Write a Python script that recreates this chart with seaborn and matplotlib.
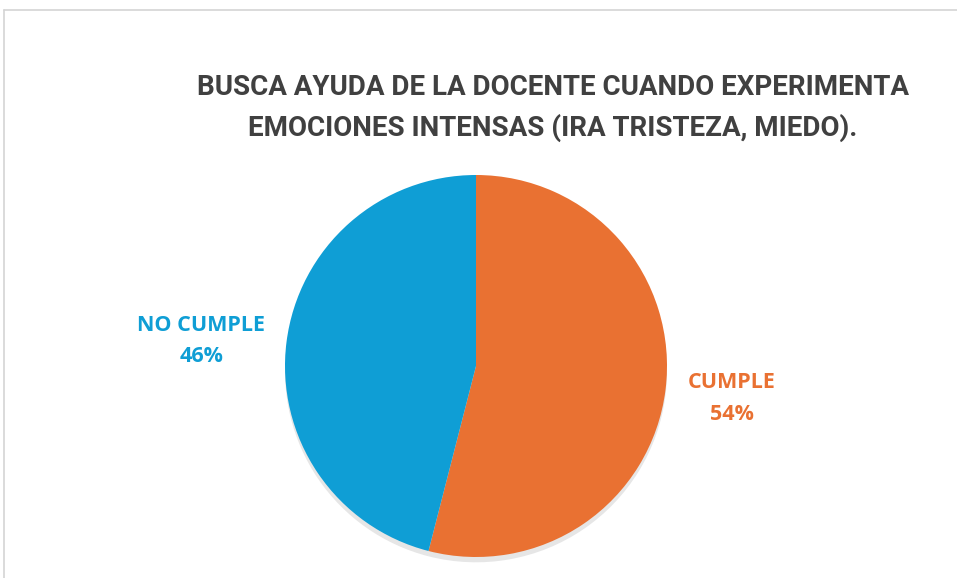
import matplotlib
matplotlib.use("Agg")
import matplotlib.pyplot as plt
from matplotlib.lines import Line2D
import numpy as np
import seaborn as sns

# Data
categories = ["CUMPLE", "NO CUMPLE"]
values = [54, 46]
colors = ["#E97132", "#0F9ED5"]
title = "BUSCA AYUDA DE LA DOCENTE CUANDO EXPERIMENTA\nEMOCIONES INTENSAS (IRA TRISTEZA, MIEDO)."

sns.set_theme(style="white")
plt.rcParams["font.family"] = ["Roboto", "DejaVu Sans"]

W, H = 957, 578
fig = plt.figure(figsize=(W / 100, H / 100), dpi=100)
fig.patch.set_facecolor("white")

# chart frame (top + left edge visible)
fig.add_artist(Line2D([4 / W, 1.0], [1 - 10 / H, 1 - 10 / H], color="#d4d4d4", lw=1.2))
fig.add_artist(Line2D([4 / W, 4 / W], [1 - 10 / H, 0.0], color="#d4d4d4", lw=1.2))

# title
fig.text(553 / W, 1 - 108 / H, title, ha="center", va="center",
         fontsize=20, fontweight="bold", color="#404040", linespacing=1.55)

# pie axes: center (476, 366), radius 191 px
cx, cy, r = 476, 366, 191
ax = fig.add_axes([(cx - r) / W, 1 - (cy + r) / H, 2 * r / W, 2 * r / H])
wedges, _ = ax.pie(values, colors=colors, startangle=90, counterclock=False,
                   radius=1.0, wedgeprops=dict(linewidth=0),
                   shadow=dict(ox=0.0, oy=-0.02, shade=0.0, facecolor="#c8c8c8",
                               edgecolor="none", alpha=0.45))
ax.set_xlim(-1, 1)
ax.set_ylim(-1, 1)
ax.set_aspect("equal")
ax.axis("off")

# labels outside each wedge (distance, vertical nudge in points)
label_dist = [1.35, 1.45]
label_nudge = [0, -7]
for w, cat, v, c, d, n in zip(wedges, categories, values, colors, label_dist, label_nudge):
    ang = np.deg2rad((w.theta1 + w.theta2) / 2)
    ax.annotate(f"{cat}\n{v}%", xy=(d * np.cos(ang), d * np.sin(ang)),
                xytext=(0, n), textcoords="offset points", ha="center", va="center",
                fontsize=15.5, fontweight="bold", color=c, linespacing=1.65,
                family=["Open Sans", "DejaVu Sans"], annotation_clip=False)

fig.savefig("out.png", dpi=100)
